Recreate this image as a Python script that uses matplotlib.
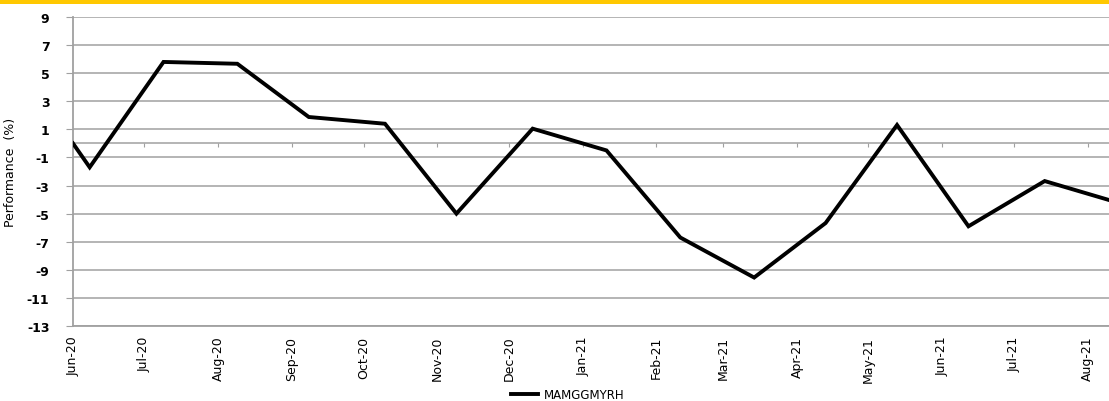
import datetime as dt
import matplotlib
matplotlib.use('Agg')
import matplotlib.pyplot as plt
import matplotlib.dates as mdates
from matplotlib.patches import Rectangle

# data
dates = [
  "2020-06-01", "2020-06-08", "2020-07-09", "2020-08-09", "2020-09-08",
  "2020-10-10", "2020-11-09", "2020-12-11", "2021-01-11", "2021-02-11",
  "2021-03-14", "2021-04-13", "2021-05-13", "2021-06-12", "2021-07-14",
  "2021-08-10",
]
perf = [0.0, -1.7, 5.8, 5.67, 1.88, 1.4, -5.0, 1.05, -0.5, -6.7,
        -9.55, -5.67, 1.31, -5.9, -2.68, -4.03]
series_name = "MAMGGMYRH"
y_ticks = list(range(-13, 10, 2))
x_start = "2020-06-01"
x_end = "2021-08-10"

GRID = '#a0a0a0'
NARROW = ['Liberation Sans Narrow', 'DejaVu Sans']

x = [dt.datetime.strptime(d, "%Y-%m-%d") for d in dates]

fig = plt.figure(figsize=(11.09, 4.02), dpi=100)
ax = fig.add_axes([73 / 1109, 1 - 327 / 402, 1 - 73 / 1109, (327 - 18) / 402])

# yellow band along the top
fig.patches.append(Rectangle((0, 1 - 4.5 / 402), 1, 4.5 / 402, transform=fig.transFigure,
                             facecolor='#ffc800', edgecolor='none'))

ax.plot(x, perf, color='black', linewidth=2.8, label=series_name, zorder=3,
        solid_joinstyle='miter')

ax.set_ylim(-13, 9)
ax.set_xlim(dt.datetime.strptime(x_start, "%Y-%m-%d"), dt.datetime.strptime(x_end, "%Y-%m-%d"))
ax.set_yticks(y_ticks)
ax.set_yticklabels([str(v) for v in y_ticks], fontsize=9, fontweight='semibold')
ax.grid(axis='y', color=GRID, linewidth=1.1, zorder=0)

for side in ['top', 'right']:
  ax.spines[side].set_visible(False)
ax.spines['left'].set_color(GRID)
ax.spines['left'].set_linewidth(1.3)
ax.spines['bottom'].set_position(('data', 0))
ax.spines['bottom'].set_color(GRID)
ax.spines['bottom'].set_linewidth(1.1)

ax.tick_params(axis='y', length=5, color=GRID, pad=12)
ax.xaxis.set_major_locator(mdates.MonthLocator())
ax.tick_params(axis='x', length=3, color=GRID, direction='out', labelbottom=False)

# month labels sit under the plot, not on the zero line
sec = ax.secondary_xaxis(0.0)
sec.xaxis.set_major_locator(mdates.MonthLocator())
sec.xaxis.set_major_formatter(mdates.DateFormatter('%b-%y'))
sec.tick_params(length=0, pad=7)
sec.spines['bottom'].set_color(GRID)
sec.spines['bottom'].set_linewidth(1.3)
for lbl in sec.get_xticklabels():
  lbl.set_rotation(90)
  lbl.set_fontsize(9)
  lbl.set_family(NARROW)

ax.set_ylabel('Performance  (%)', fontsize=9, family=NARROW)
ax.yaxis.set_label_coords(-56 / 1036, 0.5)

fig.legend(loc='center', bbox_to_anchor=(568 / 1109, 1 - 396 / 402), frameon=False,
           fontsize=8.5, handlelength=2.3, handletextpad=0.5)

fig.savefig('out.png', dpi=100)
